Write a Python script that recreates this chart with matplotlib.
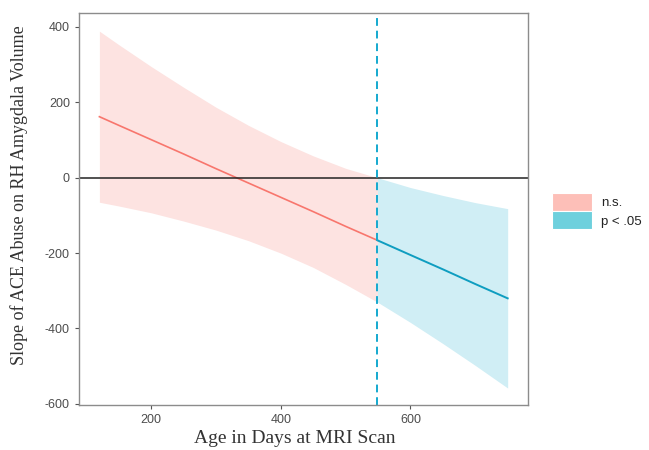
import numpy as np
import matplotlib.pyplot as plt
from matplotlib.patches import Patch

plt.rcParams['axes.unicode_minus'] = False

# age in days, estimated slope and confidence band
age = [120, 150, 200, 250, 300, 350, 400, 450, 500, 549, 600, 650, 700, 750]
slope = [162, 139, 101, 63, 24, -14, -52, -90, -129, -166, -205, -243, -282, -320]
upper = [389, 353, 295, 240, 187, 139, 96, 58, 25, 0, -26, -47, -66, -82]
lower = [-65, -75, -93, -115, -139, -167, -200, -238, -283, -330, -384, -440, -498, -558]
jn_point = 549
legend_labels = ['n.s.', 'p < .05']

age = np.array(age)
slope = np.array(slope)
upper = np.array(upper)
lower = np.array(lower)
ns = age <= jn_point
sig = age >= jn_point

fig = plt.figure(figsize=(6.49, 4.5), dpi=100)
ax = fig.add_axes([0.1217, 0.1, 0.692, 0.871])

ax.fill_between(age[ns], lower[ns], upper[ns], color='#FDE3E1', lw=0)
ax.fill_between(age[sig], lower[sig], upper[sig], color='#D0EEF5', lw=0)
ax.plot(age[ns], slope[ns], color='#F8766D', lw=1.2)
ax.plot(age[sig], slope[sig], color='#0E9DC0', lw=1.4)
ax.axhline(0, color='#222222', lw=1.1)
ax.axvline(jn_point, color='#14A9CF', lw=1.4, ls=(0, (4, 2.5)))

ax.set_xlim(88.5, 781.5)
ax.set_ylim(-603, 437)
ax.set_xticks([200, 400, 600])
ax.set_yticks([-600, -400, -200, 0, 200, 400])
ax.tick_params(colors='#555555', labelsize=9, length=3, width=0.8,
               labelcolor='#4D4D4D')
for lab in ax.get_xticklabels() + ax.get_yticklabels():
    lab.set_family('Liberation Sans')
for s in ax.spines.values():
    s.set_color('#8C8C8C')
    s.set_linewidth(1.0)

ax.set_xlabel('Age in Days at MRI Scan', family='Liberation Serif',
              fontsize=14, color='#333333')
ax.xaxis.set_label_coords(0.48, -0.065)
ax.set_ylabel('Slope of ACE Abuse on RH Amygdala Volume', family='Liberation Serif',
              fontsize=13, color='#333333')
ax.yaxis.set_label_coords(-0.113, 0.536)

handles = [Patch(facecolor='#FDBFB8', edgecolor='white', lw=0.8),
           Patch(facecolor='#6ED0DD', edgecolor='white', lw=0.8)]
fig.legend(handles, legend_labels, loc='upper left',
           bbox_to_anchor=(552 / 649, 1 - 193 / 450), frameon=False,
           prop={'family': 'Liberation Sans', 'size': 9.5},
           handlelength=3.0, handleheight=1.75, labelspacing=0.0,
           handletextpad=0.7, borderpad=0, borderaxespad=0,
           labelcolor='#222222')

fig.savefig('out.png', dpi=100)
